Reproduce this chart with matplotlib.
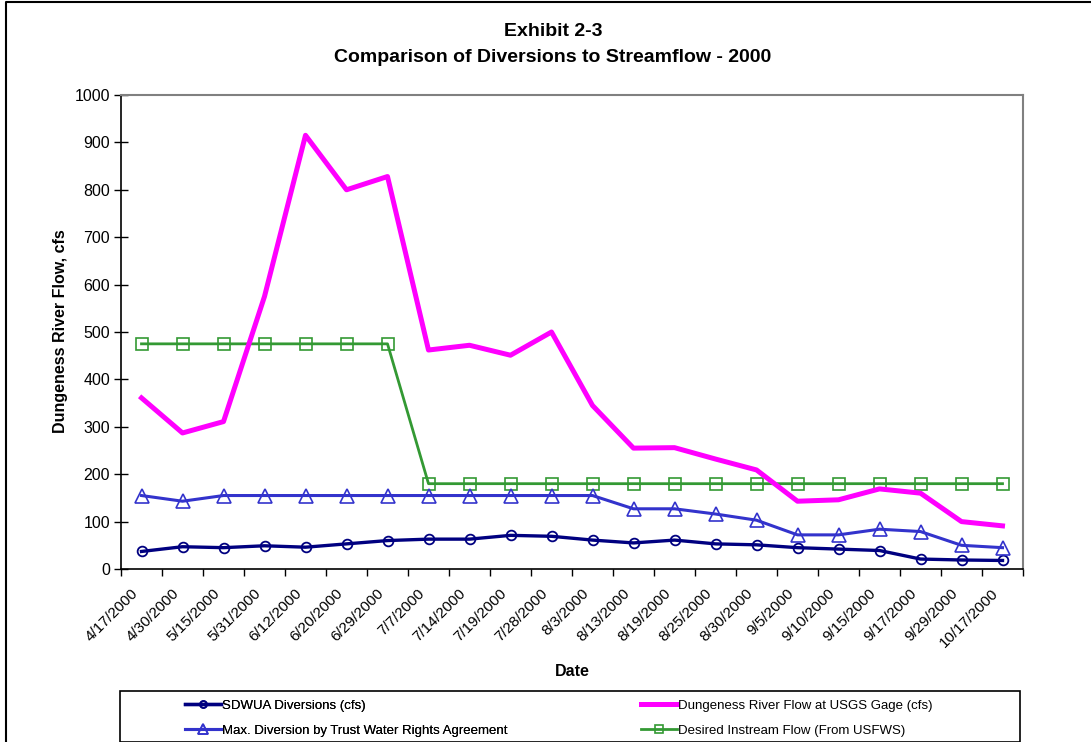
import matplotlib.pyplot as plt
from matplotlib.lines import Line2D
from matplotlib.patches import Rectangle
from matplotlib.transforms import ScaledTranslation

plt.rcParams['font.family'] = ['Liberation Sans', 'DejaVu Sans']

# Relevés de l'année 2000
dates = ['4/17/2000', '4/30/2000', '5/15/2000', '5/31/2000', '6/12/2000',
         '6/20/2000', '6/29/2000', '7/7/2000', '7/14/2000', '7/19/2000',
         '7/28/2000', '8/3/2000', '8/13/2000', '8/19/2000', '8/25/2000',
         '8/30/2000', '9/5/2000', '9/10/2000', '9/15/2000', '9/17/2000',
         '9/29/2000', '10/17/2000']
sdwua = [37, 47, 45, 49, 46, 53, 60, 63, 63, 71, 69, 61,
         55, 61, 53, 51, 45, 42, 39, 21, 19, 18]
debit_riviere = [361, 287, 311, 575, 915, 800, 828, 462, 472, 451, 500, 345,
                 255, 256, 232, 209, 143, 146, 169, 160, 100, 91]
max_trust = [155, 143, 155, 155, 155, 155, 155, 155, 155, 155, 155, 155,
             127, 127, 116, 103, 72, 72, 84, 79, 50, 45]
debit_souhaite = [475, 475, 475, 475, 475, 475, 475, 180, 180, 180, 180, 180,
                  180, 180, 180, 180, 180, 180, 180, 180, 180, 180]

noms = ['SDWUA Diversions (cfs)',
        'Dungeness River Flow at USGS Gage (cfs)',
        'Max. Diversion by Trust Water Rights Agreement',
        'Desired Instream Flow (From USFWS)']

W, H = 1091, 742
fig = plt.figure(figsize=(W / 100, H / 100), dpi=100)
ax = fig.add_axes([121 / W, 1 - 569 / H, (1023 - 121) / W, (569 - 95) / H])

x = [i + 0.5 for i in range(len(dates))]

l_sdwua, = ax.plot(x, sdwua, color='#000080', lw=2.4, marker='o', ms=7,
                   mfc='none', mec='#000080', mew=1.3, zorder=4)
l_riv, = ax.plot(x, debit_riviere, color='#FF00FF', lw=3.6, zorder=3)
l_trust, = ax.plot(x, max_trust, color='#3333CC', lw=2.2, marker='^', ms=10,
                   mfc='none', mec='#3333CC', mew=1.2, zorder=4)
l_vert, = ax.plot(x, debit_souhaite, color='#339933', lw=2.0, marker='s', ms=9,
                  mfc='none', mec='#339933', mew=1.2, zorder=2)

ax.set_xlim(0, len(dates))
ax.set_ylim(0, 1000)
ax.set_yticks(range(0, 1001, 100))
ax.tick_params(axis='y', direction='inout', length=10, width=1, labelsize=11.5, pad=3)

# graduations entre les catégories, étiquettes au centre
ax.set_xticks(range(0, len(dates) + 1))
ax.set_xticklabels([])
ax.tick_params(axis='x', which='major', direction='out', length=5, width=1)
ax.set_xticks(x, minor=True)
ax.set_xticklabels(dates, minor=True, rotation=45, ha='right', va='center',
                   rotation_mode='anchor', fontsize=11)
ax.tick_params(axis='x', which='minor', length=0, pad=14)
decalage = ScaledTranslation(-6 / 100, -3 / 100, fig.dpi_scale_trans)
for lbl in ax.get_xticklabels(minor=True):
    lbl.set_transform(lbl.get_transform() + decalage)

for s in ['top', 'right']:
    ax.spines[s].set_color('#808080')
    ax.spines[s].set_linewidth(1.5)
for s in ['left', 'bottom']:
    ax.spines[s].set_color('black')
    ax.spines[s].set_linewidth(1.2)

fig.text(553 / W, 1 - 31 / H, 'Exhibit 2-3', ha='center', va='center',
         fontsize=14, fontweight='bold')
fig.text(553 / W, 1 - 57 / H, 'Comparison of Diversions to Streamflow - 2000',
         ha='center', va='center', fontsize=14, fontweight='bold')
fig.text(60 / W, 1 - 331 / H, 'Dungeness River Flow, cfs', rotation=90,
         ha='center', va='center', fontsize=11.5, fontweight='bold')
fig.text(572 / W, 1 - 671 / H, 'Date', ha='center', va='center',
         fontsize=11.5, fontweight='bold')

# cadre de la légende
fig.patches.append(Rectangle((120 / W, 0), 900 / W, 1 - 691 / H,
                             transform=fig.transFigure, fill=False,
                             edgecolor='black', lw=1.2))

leg1 = fig.legend([l_sdwua, l_trust], [noms[0], noms[2]], loc='upper left',
                  bbox_to_anchor=(180 / W, 1 - 694 / H), frameon=False,
                  fontsize=9.5, handlelength=2.7, handletextpad=0.1,
                  labelspacing=1.0, borderaxespad=0, markerscale=0.7)
leg2 = fig.legend([l_riv, l_vert], [noms[1], noms[3]], loc='upper left',
                  bbox_to_anchor=(636 / W, 1 - 694 / H), frameon=False,
                  fontsize=9.5, handlelength=2.7, handletextpad=0.1,
                  labelspacing=1.0, borderaxespad=0, markerscale=0.7)
fig.add_artist(leg1)

# bordure extérieure
fig.add_artist(Line2D([6 / W, 6 / W, 1.0], [0, 1 - 2 / H, 1 - 2 / H],
                      transform=fig.transFigure, color='black', lw=1.5))

fig.savefig('out.png', dpi=100)
